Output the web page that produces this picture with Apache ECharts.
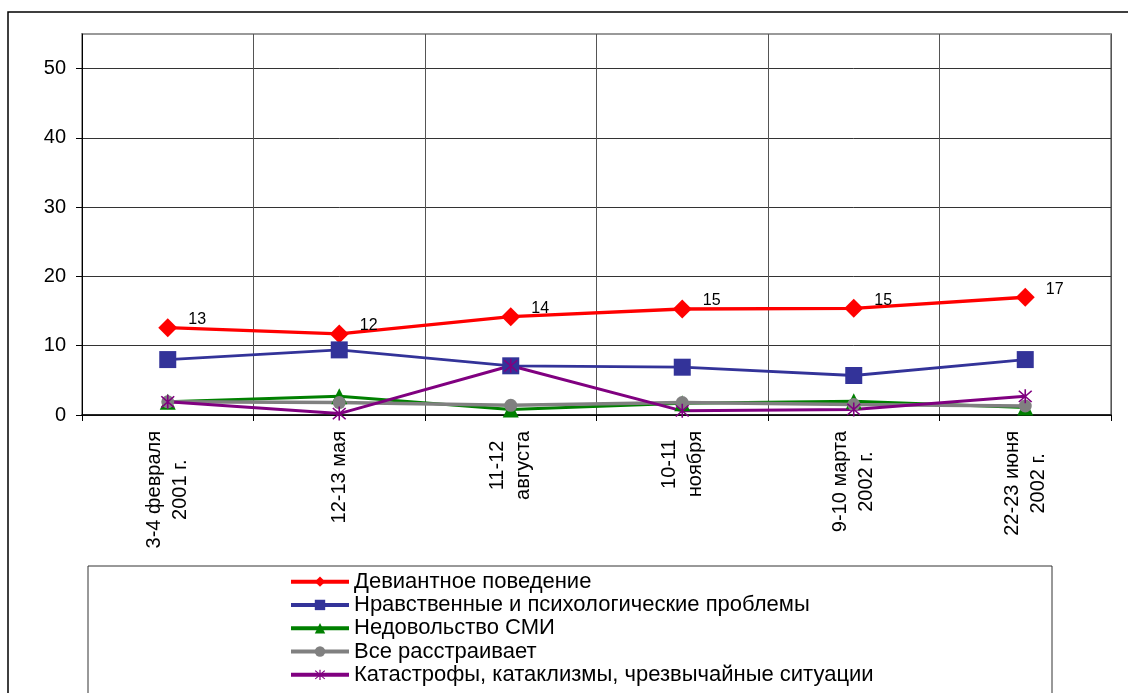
<!DOCTYPE html>
<html>
<head>
<meta charset="utf-8">
<script src="https://cdn.jsdelivr.net/npm/echarts@6.0.0/dist/echarts.min.js"></script>
<style>
html,body{margin:0;padding:0;background:#fff;}
#chart{width:1128px;height:693px;}
</style>
</head>
<body>
<div id="chart"></div>
<script>
var categories = ['3-4 февраля\n2001 г.', '12-13 мая', '11-12\nавгуста', '10-11\nноября', '9-10 марта\n2002 г.', '22-23 июня\n2002 г.'];
var seriesNames = ['Девиантное поведение', 'Нравственные и психологические проблемы', 'Недовольство СМИ', 'Все расстраивает', 'Катастрофы, катаклизмы, чрезвычайные ситуации'];
var deviant = [12.6, 11.7, 14.2, 15.3, 15.4, 17.0];
var moral = [8.0, 9.4, 7.1, 6.9, 5.7, 8.0];
var media = [1.9, 2.7, 0.8, 1.7, 2.0, 1.1];
var everything = [1.9, 1.8, 1.4, 1.8, 1.5, 1.3];
var disasters = [1.9, 0.2, 7.1, 0.6, 0.8, 2.7];
var yTicks = [0, 10, 20, 30, 40, 50];
var yMax = 55;

var FONT = "'Liberation Sans', Arial, sans-serif";
var asterisk = 'path://M-1,-10L1,-10L1,10L-1,10Z M-7.3,-8.7L8.7,7.3L7.3,8.7L-8.7,-7.3Z M8.7,-7.3L-7.3,8.7L-8.7,7.3L7.3,-8.7Z';

function mk(name, data, color, symbol, size, width, extra) {
  var s = {
    name: name, type: 'line', data: data,
    symbol: symbol, symbolSize: size,
    lineStyle: {color: color, width: width},
    itemStyle: {color: color},
    emphasis: {disabled: true},
    animation: false
  };
  if (extra) for (var k in extra) s[k] = extra[k];
  return s;
}

var chart = echarts.init(document.getElementById('chart'), null, {renderer: 'canvas'});
chart.setOption({
  backgroundColor: '#fff',
  animation: false,
  grid: {left: 82, right: 17, top: 34, bottom: 278, show: true, borderColor: '#999', borderWidth: 2, containLabel: false},
  xAxis: {
    type: 'category', data: categories, boundaryGap: true,
    axisLine: {lineStyle: {color: '#000', width: 1.5}},
    axisTick: {show: true, length: 6, inside: false, lineStyle: {color: '#000'}},
    splitLine: {show: true, lineStyle: {color: '#555', width: 1}},
    axisLabel: {
      interval: 0, rotate: 90, margin: 16, color: '#000',
      fontFamily: FONT, fontSize: 20, lineHeight: 26,
      formatter: function (v) {
        return v.split('\n').map(function (l) { return '{c|' + l + '}'; }).join('\n');
      },
      rich: {c: {align: 'center', fontFamily: FONT, fontSize: 20, lineHeight: 26, color: '#000'}}
    }
  },
  yAxis: {
    type: 'value', min: 0, max: yMax,
    axisLine: {show: true, lineStyle: {color: '#000', width: 1}},
    axisTick: {show: true, length: 6, customValues: yTicks, lineStyle: {color: '#000'}},
    axisLabel: {customValues: yTicks, margin: 16, color: '#000', fontFamily: FONT, fontSize: 20},
    splitLine: {show: true, lineStyle: {color: '#333', width: 1}}
  },
  legend: {
    orient: 'vertical', left: 284, top: 565, height: 200,
    itemWidth: 58, itemHeight: 13, itemGap: 0,
    lineStyle: {width: 4},
    textStyle: {color: '#000', fontFamily: FONT, fontSize: 22, lineHeight: 23.3},
    data: seriesNames
  },
  series: [
    mk(seriesNames[0], deviant, '#FF0000', 'diamond', 19, 3.3, {
      label: {show: true, position: 'right', offset: [6, -8], color: '#000', fontFamily: FONT, fontSize: 16,
        formatter: function (p) { return Math.round(p.value); }}
    }),
    mk(seriesNames[1], moral, '#333399', 'rect', 17, 2.8),
    mk(seriesNames[2], media, '#008000', 'triangle', 16, 3),
    mk(seriesNames[3], everything, '#808080', 'circle', 13, 3.5),
    mk(seriesNames[4], disasters, '#800080', asterisk, 14, 3)
  ],
  graphic: [
    {type: 'rect', silent: true, z: -1, shape: {x: 8, y: 12, width: 1140, height: 700}, style: {fill: null, stroke: '#000', lineWidth: 1.5}},
    {type: 'rect', silent: true, z: -1, shape: {x: 88, y: 566, width: 964, height: 140}, style: {fill: null, stroke: '#333', lineWidth: 1}}
  ]
});
</script>
</body>
</html>
